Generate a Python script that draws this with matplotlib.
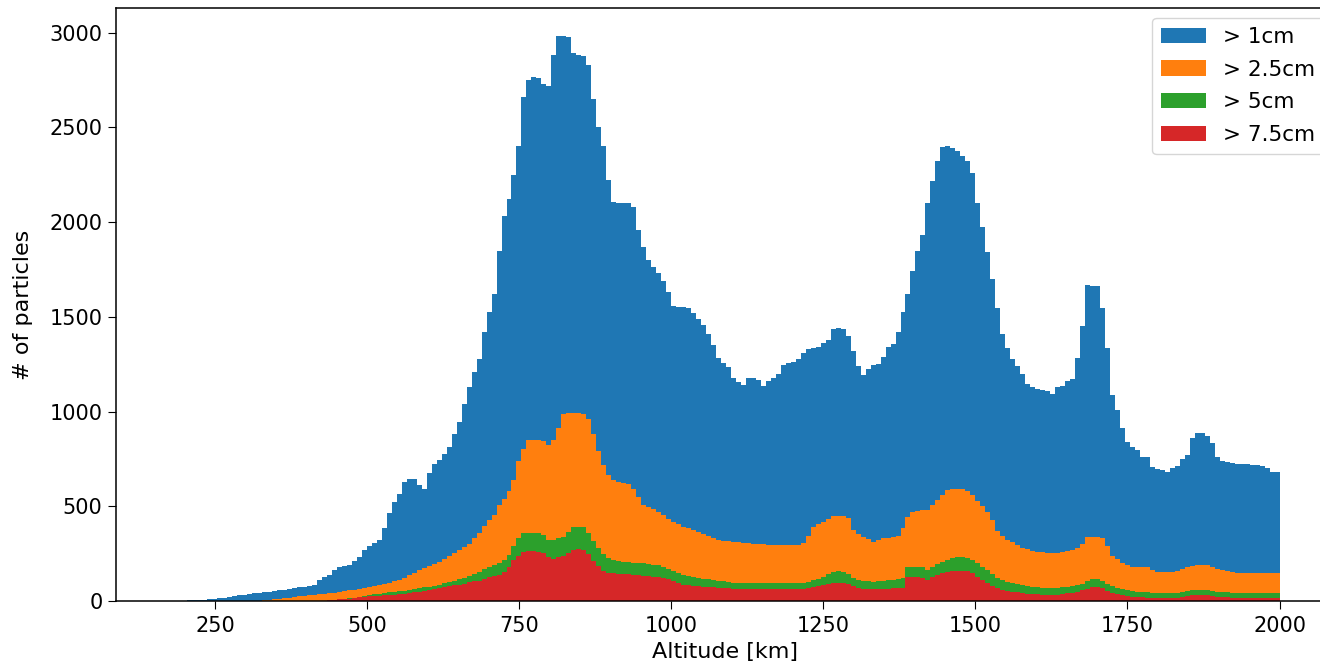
import numpy as np
import matplotlib
matplotlib.use('Agg')
import matplotlib.pyplot as plt

# altitude bins [km]
bin_lo = 180
bin_hi = 2000
n_bins = 222

gt_1cm = [
    0, 0, 0, 3, 4, 5, 7, 9, 11, 14, 18, 22, 27, 32, 34, 36, 40, 43, 46, 49,
    53, 57, 60, 63, 68, 73, 76, 80, 86, 110, 125, 137, 165, 182, 186, 190, 210, 234, 268, 290,
    305, 322, 385, 465, 525, 565, 630, 645, 645, 610, 590, 675, 722, 742, 775, 815, 880, 945, 1040, 1130,
    1210, 1280, 1420, 1525, 1620, 1850, 2030, 2120, 2250, 2400, 2660, 2750, 2765, 2760, 2730, 2720, 2880, 2980, 2980, 2975,
    2890, 2880, 2878, 2830, 2650, 2500, 2400, 2220, 2105, 2103, 2103, 2100, 2080, 1960, 1870, 1800, 1765, 1730, 1690, 1630,
    1555, 1551, 1550, 1548, 1520, 1490, 1455, 1410, 1350, 1285, 1255, 1235, 1175, 1157, 1140, 1177, 1177, 1165, 1137, 1160,
    1175, 1196, 1247, 1255, 1262, 1280, 1310, 1330, 1337, 1343, 1360, 1379, 1435, 1440, 1435, 1400, 1320, 1238, 1194, 1225,
    1245, 1252, 1290, 1340, 1355, 1420, 1525, 1620, 1740, 1845, 1930, 2100, 2215, 2325, 2395, 2400, 2390, 2375, 2350, 2320,
    2260, 2100, 1975, 1840, 1700, 1545, 1410, 1335, 1280, 1240, 1200, 1148, 1130, 1120, 1115, 1110, 1093, 1128, 1135, 1160,
    1170, 1282, 1449, 1668, 1665, 1662, 1545, 1335, 1088, 1009, 912, 841, 815, 798, 762, 762, 706, 696, 690, 683,
    701, 710, 748, 771, 860, 886, 886, 870, 833, 762, 741, 735, 727, 725, 724, 722, 720, 719, 712, 701,
    683, 680,
]

gt_2_5cm = [
    0, 0, 0, 0, 0, 0, 0, 0, 0, 0, 0, 0, 0, 0, 0, 0, 0, 0, 3, 6,
    9, 12, 15, 18, 22, 25, 27, 30, 33, 36, 38, 40, 44, 48, 52, 56, 60, 64, 68, 74,
    80, 86, 90, 96, 104, 113, 122, 135, 148, 162, 172, 183, 193, 205, 222, 238, 255, 270, 286, 302,
    330, 360, 395, 425, 455, 505, 540, 580, 640, 740, 800, 848, 852, 852, 845, 822, 850, 915, 985, 990,
    990, 990, 988, 960, 880, 790, 720, 665, 638, 628, 622, 616, 590, 548, 505, 495, 486, 470, 455, 435,
    418, 405, 393, 385, 375, 365, 355, 343, 333, 322, 318, 315, 312, 310, 308, 306, 303, 301, 300, 298,
    297, 296, 296, 296, 297, 298, 305, 345, 392, 408, 419, 435, 449, 450, 449, 440, 375, 355, 340, 325,
    313, 322, 331, 335, 338, 345, 385, 445, 472, 476, 478, 481, 505, 535, 562, 585, 592, 592, 590, 582,
    560, 530, 500, 470, 430, 370, 345, 322, 310, 295, 280, 272, 266, 261, 256, 253, 252, 255, 260, 265,
    270, 282, 300, 338, 340, 338, 330, 292, 240, 220, 202, 190, 182, 180, 179, 178, 165, 155, 155, 155,
    155, 160, 170, 180, 186, 190, 190, 188, 178, 168, 162, 157, 153, 150, 149, 148, 147, 147, 146, 146,
    146, 146,
]

gt_5cm = [
    0, 0, 0, 0, 0, 0, 0, 0, 0, 0, 0, 0, 0, 0, 0, 0, 0, 0, 0, 0,
    0, 0, 0, 0, 0, 0, 0, 0, 0, 0, 0, 2, 5, 8, 11, 14, 17, 22, 27, 32,
    35, 38, 42, 45, 48, 51, 55, 59, 63, 67, 72, 76, 81, 87, 94, 101, 108, 114, 121, 131,
    142, 155, 168, 180, 192, 200, 215, 245, 290, 330, 359, 360, 360, 358, 350, 320, 320, 330, 340, 365,
    388, 390, 388, 360, 315, 280, 248, 228, 215, 212, 208, 205, 202, 200, 198, 195, 192, 188, 180, 170,
    160, 148, 137, 130, 125, 120, 117, 114, 112, 108, 104, 100, 97, 95, 94, 93, 93, 93, 93, 93,
    93, 93, 93, 93, 93, 93, 95, 102, 110, 118, 128, 140, 155, 156, 155, 145, 120, 112, 106, 103,
    102, 104, 107, 110, 113, 117, 122, 178, 181, 181, 180, 165, 180, 196, 208, 218, 226, 230, 230, 228,
    215, 198, 181, 162, 140, 120, 110, 102, 95, 89, 85, 80, 76, 72, 70, 68, 67, 69, 72, 75,
    78, 84, 92, 105, 114, 115, 108, 92, 78, 70, 63, 57, 53, 50, 47, 45, 43, 41, 40, 40,
    41, 44, 48, 53, 57, 58, 58, 57, 52, 48, 46, 45, 44, 43, 42, 42, 41, 41, 40, 40,
    40, 40,
]

gt_7_5cm = [
    0, 0, 0, 0, 0, 0, 0, 0, 0, 0, 0, 0, 0, 0, 0, 0, 0, 0, 0, 0,
    0, 0, 0, 0, 0, 0, 0, 0, 0, 0, 2, 4, 6, 8, 10, 12, 15, 19, 23, 25,
    27, 29, 31, 33, 34, 36, 39, 42, 45, 49, 53, 57, 62, 67, 72, 77, 82, 87, 92, 98,
    103, 108, 118, 126, 133, 137, 155, 180, 215, 240, 260, 262, 262, 260, 255, 230, 222, 232, 240, 255,
    270, 272, 270, 250, 210, 185, 160, 150, 147, 145, 143, 141, 139, 137, 134, 131, 128, 125, 122, 118,
    108, 96, 86, 82, 79, 77, 75, 74, 73, 71, 69, 67, 65, 64, 63, 62, 62, 62, 62, 62,
    62, 62, 62, 62, 62, 62, 64, 68, 73, 78, 84, 89, 93, 94, 93, 88, 78, 70, 65, 62,
    62, 63, 64, 65, 66, 67, 70, 126, 128, 125, 122, 112, 125, 138, 148, 155, 158, 160, 160, 158,
    148, 128, 111, 95, 80, 67, 60, 55, 50, 45, 40, 38, 36, 35, 34, 33, 32, 34, 37, 40,
    44, 49, 56, 65, 72, 72, 68, 55, 42, 35, 30, 26, 23, 21, 19, 17, 16, 15, 14, 14,
    15, 18, 22, 27, 31, 32, 32, 31, 27, 23, 21, 19, 18, 17, 16, 16, 15, 15, 15, 14,
    14, 14,
]

labels = ['> 1cm', '> 2.5cm', '> 5cm', '> 7.5cm']
series = [gt_1cm, gt_2_5cm, gt_5cm, gt_7_5cm]

plt.rcParams['font.size'] = 15
plt.rcParams['xtick.major.size'] = 6
plt.rcParams['ytick.major.size'] = 6
plt.rcParams['xtick.major.pad'] = 5
plt.rcParams['axes.linewidth'] = 1.1

fig = plt.figure(figsize=(13.2, 6.68), dpi=100)
ax = fig.add_axes([0.0877, 0.1003, 0.9236, 0.8877])

edges = np.linspace(bin_lo, bin_hi, n_bins + 1)
centers = 0.5 * (edges[:-1] + edges[1:])
for counts, lab in zip(series, labels):
    ax.hist(centers, bins=edges, weights=counts, label=lab)

ax.set_xlim(87, 2091)
ax.set_ylim(0, 3130)
ax.set_xticks([250, 500, 750, 1000, 1250, 1500, 1750, 2000])
ax.set_xlabel('Altitude [km]', fontsize=16, labelpad=4)
ax.set_ylabel('# of particles', fontsize=16, labelpad=12)
ax.legend(loc='upper right', bbox_to_anchor=(1324 / 1320, 1 - 18 / 668),
          bbox_transform=fig.transFigure, borderaxespad=0,
          fontsize=15.5, labelspacing=0.6, handlelength=2.1)

fig.savefig('out.png', dpi=100)
